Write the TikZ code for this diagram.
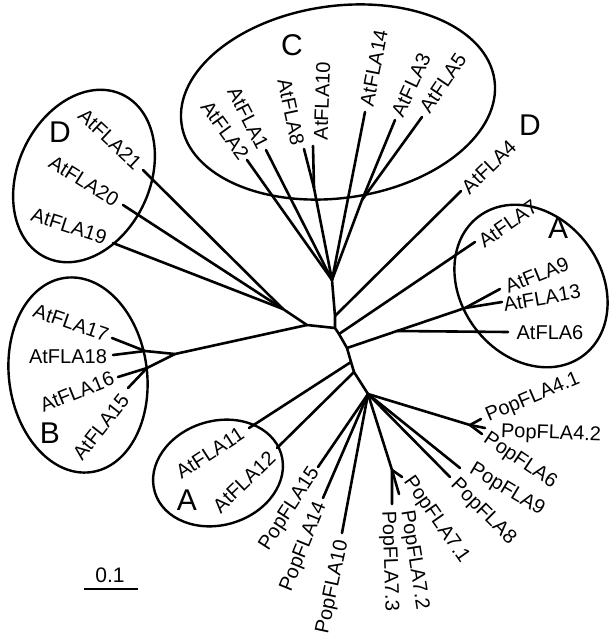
\documentclass[tikz,border=0pt]{standalone}
\usepackage{fontspec}
\setmainfont{Liberation Sans}
\begin{document}
\begin{tikzpicture}[x=1pt,y=-1pt,
  br/.style={line width=2.6pt, line cap=round, line join=round},
  ring/.style={line width=2.4pt},
  lab/.style={inner sep=0pt, font=\fontsize{20}{24}\selectfont},
  big/.style={inner sep=0pt, font=\fontsize{30}{36}\selectfont}]
\useasboundingbox (0,0) rectangle (612,640);

% clade outlines
\draw[ring, shift={(338,102)}, rotate=8] (0,0) ellipse [x radius=158pt, y radius=96pt];
\draw[ring, shift={(531,286)}, rotate=-53] (0,0) ellipse [x radius=87pt, y radius=70pt];
\draw[ring, shift={(84,176)}, rotate=65] (0,0) ellipse [x radius=90pt, y radius=66pt];
\draw[ring, shift={(78,375)}, rotate=97.6] (0,0) ellipse [x radius=98pt, y radius=69pt];
\draw[ring, shift={(218,473)}, rotate=17] (0,0) ellipse [x radius=66pt, y radius=52pt];

% internal nodes
\coordinate (nC) at (332,280);
\coordinate (n4) at (335,316);
\coordinate (nL) at (335,328);
\coordinate (n7) at (339,334);
\coordinate (nA) at (347,348);
\coordinate (n11) at (351,362);
\coordinate (n12) at (354,372);
\coordinate (nP) at (368,394);
\coordinate (nC810) at (314,188);
\coordinate (nC35) at (362,200);
\coordinate (nBD) at (307,325);
\coordinate (nD) at (283,309);
\coordinate (nB) at (175,354);
\coordinate (nB1718) at (145,351);
\coordinate (nB1516) at (147,368);
\coordinate (nA6) at (397,331);
\coordinate (nA913) at (465,308);
\coordinate (nP7) at (392,470);
\coordinate (nP46) at (470,425);

% branch tips
\coordinate (t2) at (247,160);
\coordinate (t1) at (266,150);
\coordinate (t8) at (304,149);
\coordinate (t10) at (313,146);
\coordinate (t14) at (365,112);
\coordinate (t3) at (395,120);
\coordinate (t5) at (422,117);
\coordinate (t4) at (461,191);
\coordinate (t7) at (475,242);
\coordinate (t9) at (500,289);
\coordinate (t13) at (502,302);
\coordinate (t6) at (508,332);
\coordinate (t21) at (143,170);
\coordinate (t20) at (123,205);
\coordinate (t19) at (113,243);
\coordinate (t17) at (112,338);
\coordinate (t18) at (113,355);
\coordinate (t16) at (118,377);
\coordinate (t15) at (128,388);
\coordinate (t11) at (249,428);
\coordinate (t12) at (277,448);
\coordinate (p15) at (318,467);
\coordinate (p14) at (323,498);
\coordinate (p10) at (342,533);
\coordinate (p73) at (392,504);
\coordinate (p72) at (399,494);
\coordinate (p71) at (402,477);
\coordinate (p8) at (450,477);
\coordinate (p9) at (460,468);
\coordinate (p6) at (482,434);
\coordinate (p42) at (485,428);
\coordinate (p41) at (481,419);

% backbone
\draw[br] (nC) -- (n4) -- (nL) -- (n7) -- (nA) -- (n11) -- (n12) -- (nP);
% clade C
\draw[br] (nC) -- (t2);
\draw[br] (nC) -- (t1);
\draw[br] (nC) -- (nC810) -- (t8);
\draw[br] (nC810) -- (t10);
\draw[br] (nC) -- (t14);
\draw[br] (nC) -- (nC35) -- (t3);
\draw[br] (nC35) -- (t5);
% single branches
\draw[br] (n4) -- (t4);
\draw[br] (n7) -- (t7);
% clade A (right)
\draw[br] (nA) -- (nA6) -- (nA913) -- (t9);
\draw[br] (nA913) -- (t13);
\draw[br] (nA6) -- (t6);
% clades D (left) and B
\draw[br] (nL) -- (nBD) -- (nD) -- (t21);
\draw[br] (nD) -- (t20);
\draw[br] (nD) -- (t19);
\draw[br] (nBD) -- (nB) -- (nB1718) -- (t17);
\draw[br] (nB1718) -- (t18);
\draw[br] (nB) -- (nB1516) -- (t16);
\draw[br] (nB1516) -- (t15);
% clade A (lower)
\draw[br] (n11) -- (t11);
\draw[br] (n12) -- (t12);
% poplar group
\draw[br] (nP) -- (p15);
\draw[br] (nP) -- (p14);
\draw[br] (nP) -- (p10);
\draw[br] (nP) -- (nP7) -- (p73);
\draw[br] (nP7) -- (p72);
\draw[br] (nP7) -- (p71);
\draw[br] (nP) -- (p8);
\draw[br] (nP) -- (p9);
\draw[br] (nP) -- (nP46) -- (p41);
\draw[br] (nP46) -- (p42);
\draw[br] (nP46) -- (p6);

% leaf labels
\node[lab, rotate=-54] (l2) at (225,130) {AtFLA2};
\node[lab, rotate=-63] (l1) at (248,118) {AtFLA1};
\node[lab, rotate=-78] (l8) at (291,112) {AtFLA8};
\node[lab, rotate=88] (l10) at (322,101) {AtFLA10};
\node[lab, rotate=79] (l14) at (374,68) {AtFLA14};
\node[lab, rotate=65] (l3) at (411,85) {AtFLA3};
\node[lab, rotate=56] (l5) at (443,83) {AtFLA5};
\node[lab, rotate=44] (l4) at (489,167) {AtFLA4};
\node[lab, rotate=35] (l7) at (508,224) {AtFLA7};
\node[lab, rotate=22] (l9) at (537,275) {AtFLA9};
\node[lab, rotate=10] (l13) at (542,298) {AtFLA13};
\node[lab] (l6) at (550,333) {AtFLA6};
\node[lab, rotate=-43] (l21) at (110,139) {AtFLA21};
\node[lab, rotate=-32] (l20) at (84,181) {AtFLA20};
\node[lab, rotate=-18] (l19) at (69,226) {AtFLA19};
\node[lab, rotate=-19] (l17) at (71,323) {AtFLA17};
\node[lab] (l18) at (68,357) {AtFLA18};
\node[lab, rotate=22] (l16) at (77,392) {AtFLA16};
\node[lab, rotate=52] (l15) at (101,427) {AtFLA15};
\node[lab, rotate=33] (l11) at (210,453) {AtFLA11};
\node[lab, rotate=44] (l12) at (244,482) {AtFLA12};
\node[lab, rotate=57] (m15) at (290,509) {PopFLA15};
\node[lab, rotate=68] (m14) at (304,547) {PopFLA14};
\node[lab, rotate=78] (m10) at (333,587) {PopFLA10};
\node[lab, rotate=-88] (m73) at (389,561) {PopFLA7.3};
\node[lab, rotate=-81] (m72) at (414,560) {PopFLA7.2};
\node[lab, rotate=-55] (m71) at (436,520) {PopFLA7.1};
\node[lab, rotate=-45] (m8) at (483,512) {PopFLA8};
\node[lab, rotate=-31] (m9) at (507,490) {PopFLA9};
\node[lab, rotate=-34] (m6) at (520,461) {PopFLA6};
\node[lab, rotate=-2] (m42) at (551,434) {PopFLA4.2};
\node[lab, rotate=23] (m41) at (533,398) {PopFLA4.1};

% clade letters
\node[big] (cC) at (292,45) {C};
\node[big] (cDr) at (530,125) {D};
\node[big] (cAr) at (558,228) {A};
\node[big] (cDl) at (60,132) {D};
\node[big] (cB) at (50,433) {B};
\node[big] (cAl) at (187,500) {A};

% scale bar
\coordinate (s0) at (84,589);
\coordinate (s1) at (138,589);
\draw[line width=2.6pt] (s0) -- (s1);
\node[inner sep=0pt, font=\fontsize{21}{24}\selectfont] (sl) at (110,575) {0.1};
\end{tikzpicture}
\end{document}
